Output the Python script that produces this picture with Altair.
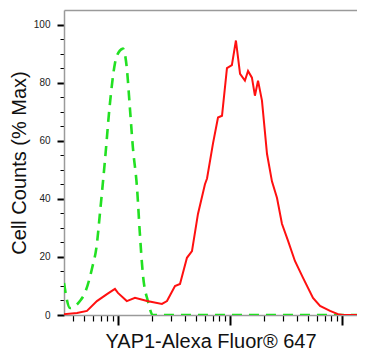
import altair as alt
import pandas as pd

# Fluorescence intensity (log scale) and % max cell counts
red_x = [3.3, 4.31, 5.29, 6.49, 7.98, 9.40, 10.0, 12.0, 14.2, 18.2, 24.7, 27.4, 32.3, 35.8,
         41.3, 45.8, 51.8, 59.8, 62.4, 70.5, 78.2, 84.9, 94.0, 104, 113, 123, 136, 145, 157,
         167, 178, 193, 214, 237, 263, 291, 330, 380, 449, 551, 637, 782, 921, 1021, 1600]
red_y = [0.3, 0.7, 1.4, 4.8, 7.2, 9.0, 7.6, 4.8, 5.9, 4.8, 3.8, 4.8, 10, 10.7,
         19.7, 22, 34.8, 45, 47, 59, 68, 68.6, 85, 86, 94.5, 83, 80.7, 84, 81.7,
         75.5, 80.7, 73.8, 55.5, 46, 40.3, 31.4, 25.5, 18.6, 12.8, 5.9, 3.1, 1.4, 0.3, 0, 0]

green_x = [3.3, 3.73, 4.58, 5.07, 5.86, 6.49, 6.90, 7.65, 8.48, 9.40, 10.4, 11.1, 12.0,
           12.8, 13.6, 14.8, 15.7, 16.7, 18.5, 20.5, 1600]
green_y = [11, 2.4, 4.8, 7.6, 15.9, 24.5, 34.8, 53, 72.8, 86.6, 91, 91.7, 85,
           71, 57.6, 43.8, 27.9, 14, 4.8, 0, 0]

x_major = [10, 100, 1000]
x_minor = [4, 5, 6, 7, 8, 9, 20, 30, 40, 50, 60, 70, 80, 90,
           200, 300, 400, 500, 600, 700, 800, 900]
y_major = [0, 20, 40, 60, 80, 100]
y_minor = list(range(0, 101, 5))

red = pd.DataFrame({"x": red_x, "y": red_y})
green = pd.DataFrame({"x": green_x, "y": green_y})

FONT = "Liberation Sans"
xscale = alt.Scale(type="log", domain=[3.3, 1361], nice=False)
yscale = alt.Scale(domain=[0, 105], nice=False, zero=False)

red_layer = alt.Chart(red).mark_line(color="#ff1010", strokeWidth=2, clip=True).encode(
    x=alt.X("x:Q", scale=xscale, axis=alt.Axis(
        orient="bottom", values=x_major, tickSize=10, tickWidth=2, tickColor="#000000",
        labels=False, domain=True, domainColor="#9a9a9a", domainWidth=1.5, grid=False,
        title="YAP1-Alexa Fluor® 647", titleFont=FONT, titleFontSize=20,
        titleFontWeight="normal", titleColor="#111111", titlePadding=5)),
    y=alt.Y("y:Q", scale=yscale, axis=alt.Axis(
        orient="left", values=y_major, tickSize=7, tickWidth=2, tickColor="#000000",
        labelFont=FONT, labelFontSize=10, labelColor="#222222", labelPadding=7,
        domain=True, domainColor="#9a9a9a", domainWidth=1.5, grid=False,
        title="Cell Counts (% Max)", titleFont=FONT, titleFontSize=20,
        titleFontWeight="normal", titleColor="#111111", titlePadding=4)),
)

green_layer = alt.Chart(green).mark_line(
    color="#22e022", strokeWidth=2.6, strokeDash=[10, 7], interpolate="monotone", clip=True
).encode(
    x=alt.X("x:Q", scale=xscale, axis=alt.Axis(
        orient="bottom", values=x_minor, tickSize=6, tickWidth=1.2, tickColor="#000000",
        labels=False, domain=False, grid=False, title=None)),
    y=alt.Y("y:Q", scale=yscale, axis=alt.Axis(
        orient="left", values=y_minor, tickSize=4, tickWidth=1, tickColor="#000000",
        labels=False, domain=False, grid=False, title=None)),
)

top_layer = alt.Chart(red).mark_line(opacity=0).encode(
    x=alt.X("x:Q", scale=xscale, axis=alt.Axis(
        orient="top", ticks=False, labels=False, domain=True, domainColor="#9a9a9a",
        domainWidth=1.5, grid=False, title=None)),
    y=alt.Y("y:Q", scale=yscale, axis=None),
)

chart = alt.layer(green_layer, red_layer, top_layer).resolve_scale(
    x="shared", y="shared"
).resolve_axis(
    x="independent", y="independent"
).properties(
    width=293, height=305,
    autosize=alt.AutoSizeParams(type="none"),
    padding={"left": 56, "top": 2, "right": 0, "bottom": 38},
).configure_view(stroke=None)

chart.save("out.html", embed_options={"renderer": "svg", "actions": False})
